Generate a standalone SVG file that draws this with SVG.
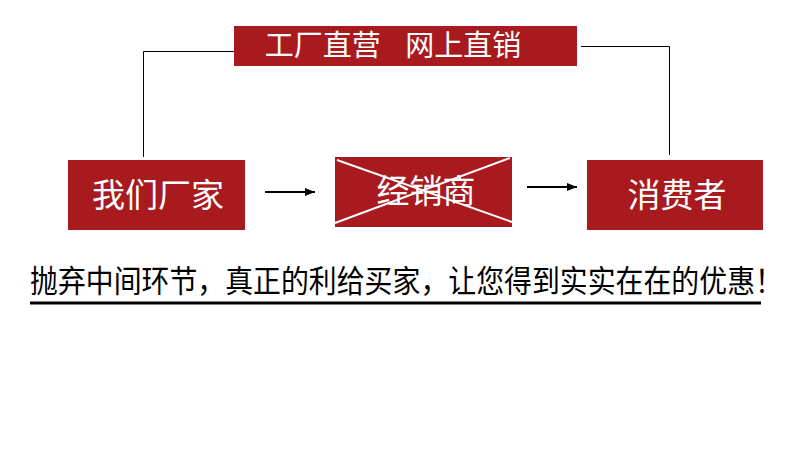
<svg xmlns="http://www.w3.org/2000/svg" width="790" height="470" viewBox="0 0 790 470">
<style>
.box{fill:#a81a1e}
.lbl{fill:#fff;font-family:"Noto Sans CJK SC","Noto Sans",sans-serif;text-anchor:middle}
.ln{stroke:#000;stroke-width:1;fill:none}
.ar{stroke:#000;stroke-width:2;fill:none}
</style>
<defs>
<marker id="ah" markerWidth="10" markerHeight="8" refX="10" refY="4" orient="auto" markerUnits="userSpaceOnUse">
<path d="M0,0 L10,4 L0,8 Z" fill="#000"/>
</marker>
</defs>
<rect width="790" height="470" fill="#fff"/>
<g id="connectors">
<polyline class="ln" points="234,51.5 143.5,51.5 143.5,157"/>
<polyline class="ln" points="581,46.5 669.5,46.5 669.5,155"/>
<line class="ar" x1="265" y1="192" x2="315" y2="192" marker-end="url(#ah)"/>
<line class="ar" x1="527" y1="187" x2="577" y2="187" marker-end="url(#ah)"/>
</g>
<g id="banner">
<rect class="box" x="234" y="26" width="343" height="40"/>
<text class="lbl" x="393" y="56" font-size="29" word-spacing="18">工厂直营 网上直销</text>
</g>
<g id="factory">
<rect class="box" x="68" y="160" width="177" height="70"/>
<text class="lbl" x="158" y="207" font-size="33">我们厂家</text>
</g>
<g id="dealer">
<rect class="box" x="335" y="157" width="177" height="70"/>
<text class="lbl" x="426" y="203" font-size="33">经销商</text>
<line x1="337" y1="160" x2="512" y2="222" stroke="#fff" stroke-width="2"/>
<line x1="335" y1="223" x2="510" y2="158" stroke="#fff" stroke-width="2"/>
</g>
<g id="consumer">
<rect class="box" x="587" y="160" width="176" height="70"/>
<text class="lbl" x="677" y="207" font-size="33">消费者</text>
</g>
<g id="slogan">
<text transform="translate(30,292) scale(1,1.1)" x="0" y="0" font-size="27.9" font-family="'Noto Sans CJK SC','Noto Sans',sans-serif" fill="#000">抛弃中间环节，真正的利给买家，让您得到实实在在的优惠！</text>
<line x1="30" y1="303" x2="761" y2="303" stroke="#000" stroke-width="3"/>
</g>
</svg>
